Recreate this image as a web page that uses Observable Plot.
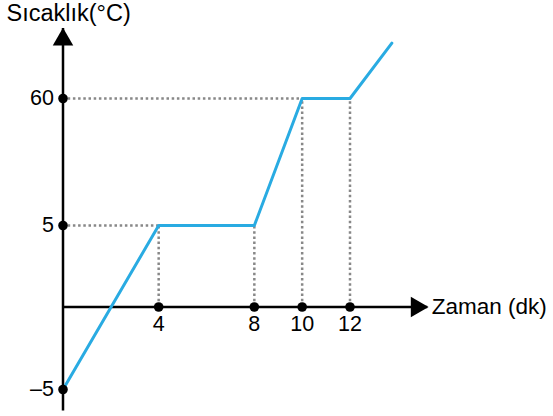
<!DOCTYPE html>
<html>
<head>
<meta charset="utf-8">
<script src="https://cdn.jsdelivr.net/npm/d3@7"></script>
<script src="https://cdn.jsdelivr.net/npm/@observablehq/plot@0.6"></script>
<style>
  html, body { margin: 0; padding: 0; background: #fff; }
  #chart svg { display: block; }
</style>
</head>
<body>
<div id="chart"></div>
<script>
// Heating curve data (time in minutes, temperature in °C)
const times = [0, 4, 8, 10, 12, 13.75];
const temps = [-5, 5, 5, 60, 60, 84];
const xTicks = [4, 8, 10, 12];
const xTickLabels = ["4", "8", "10", "12"];
const yTicks = [-5, 5, 60];
const yTickLabels = ["\u20135", "5", "60"];
const yTitle = "Sıcaklık(°C)";
const xTitle = "Zaman (dk)";
const xAxisEnd = 15.25;
const yAxisTop = 90.3;
const yAxisBottom = -6.3;

// The temperature axis is schematic (not to scale): a piecewise mapping
// from °C to an axis position, then a linear Plot scale on that position.
const axisPos = d3.scaleLinear().domain([-5, 0, 5, 60]).range([0, 82.5, 164, 291]);

const points = times.map((t, i) => ({t, v: temps[i], p: axisPos(temps[i])}));
const inner = points.slice(1, -1);
const plateauStarts = inner.filter((d, i) => i + 1 < inner.length && inner[i + 1].v === d.v);

const font = "Liberation Sans, Arial, sans-serif";
const gray = "#888888";

const chart = Plot.plot({
  width: 553,
  height: 416,
  margin: 0,
  style: {fontFamily: font, background: "#fff"},
  x: {domain: [0, 12], range: [62.5, 349.5], axis: null},
  y: {domain: [0, 291], range: [389, 98], axis: null},
  marks: [
    // dotted guides
    Plot.ruleY(plateauStarts, {y: "p", x1: 0, x2: "t", stroke: gray, strokeWidth: 2.5, strokeDasharray: "2.5,2.7"}),
    Plot.ruleX(inner, {x: "t", y1: axisPos(0), y2: "p", stroke: gray, strokeWidth: 2.5, strokeDasharray: "2.5,2.7"}),
    // axes
    Plot.ruleX([0], {x: 0, y1: axisPos(yAxisBottom), y2: axisPos(yAxisTop), stroke: "#000", strokeWidth: 2.5}),
    Plot.ruleY([0], {y: axisPos(0), x1: 0, x2: xAxisEnd, stroke: "#000", strokeWidth: 2.5}),
    Plot.dot([0], {x: 0, y: axisPos(yAxisTop), symbol: "triangle", r: 7.6, fill: "#000", stroke: null, dy: 11}),
    Plot.dot([0], {x: xAxisEnd, y: axisPos(0), symbol: "triangle", r: 7.6, fill: "#000", stroke: null, rotate: 90, dx: -11}),
    // heating curve
    Plot.line(points, {x: "t", y: "p", stroke: "#29abe2", strokeWidth: 3}),
    // tick dots
    Plot.dot(yTicks, {x: 0, y: d => axisPos(d), r: 4.8, fill: "#000", stroke: null}),
    Plot.dot(xTicks, {x: d => d, y: axisPos(0), r: 4.8, fill: "#000", stroke: null}),
    // tick labels
    Plot.text(yTicks, {x: 0, y: d => axisPos(d), text: (d, i) => yTickLabels[i], textAnchor: "end", dx: -9, fontSize: 21.5, fill: "#000"}),
    Plot.text(xTicks, {x: d => d, y: axisPos(0), text: (d, i) => xTickLabels[i], lineAnchor: "top", dy: 9, fontSize: 21.5, fill: "#000"}),
    // axis titles
    Plot.text([yTitle], {frameAnchor: "top-left", text: d => d, textAnchor: "start", lineAnchor: "top", dx: 6, dy: 4, fontSize: 23.5, fill: "#000"}),
    Plot.text([xTitle], {x: xAxisEnd, y: axisPos(0), text: d => d, textAnchor: "start", dx: 4, fontSize: 22.5, fill: "#000"})
  ]
});
document.getElementById("chart").appendChild(chart);
</script>
</body>
</html>
